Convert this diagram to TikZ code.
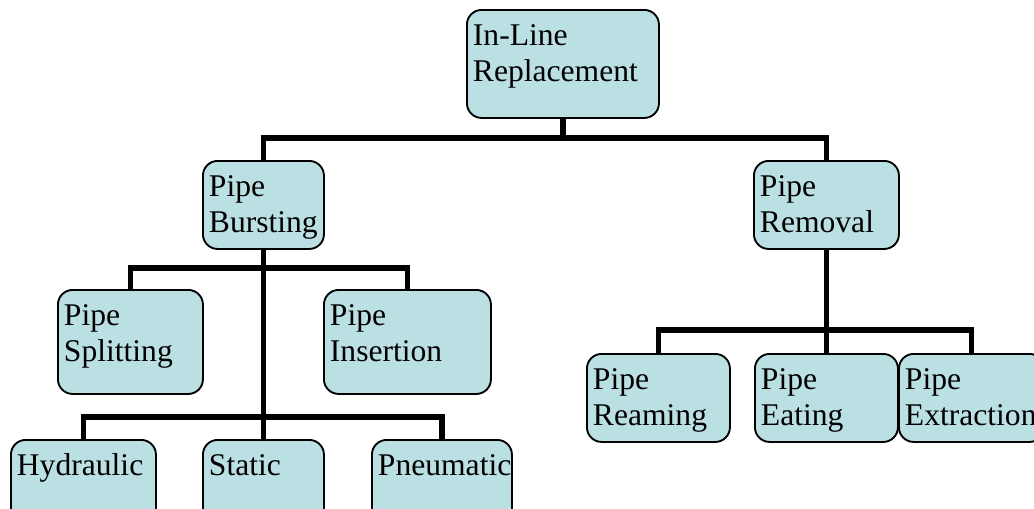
\documentclass[tikz,border=0pt]{standalone}
\usepackage{fontspec}
\setmainfont{Liberation Serif}
\usepackage{tikz}
\definecolor{boxfill}{RGB}{187,224,227}
\hyphenpenalty=10000
\exhyphenpenalty=10000
\tikzset{%
  methodbox/.style = {shape=rectangle, rounded corners=11pt,%
                      draw, line width=1.4pt, fill=boxfill,%
                      align=left, anchor=north west,%
                      inner xsep=4.5pt, inner ysep=0pt,%
                      text height=27pt, text depth=39pt,%
                      font=\fontsize{23.7pt}{27pt}\selectfont},%
  rootbox/.style   = {methodbox, text depth=54pt},%
  tallbox/.style   = {methodbox, text depth=51pt},%
  bus/.style       = {line width=4.2pt}%
}

\begin{document}
\begin{tikzpicture}[x=0.75pt,y=-0.75pt]
\useasboundingbox (0,0) rectangle (1034,508);
\clip (0,0) rectangle (1034,508);
% top level
\node[rootbox, text width=135pt] (inline) at (466,9) {In-Line\\Replacement};
\node[methodbox, text width=81.75pt] (bursting) at (202,160) {Pipe\\Bursting};
\node[methodbox, text width=99.75pt] (removal) at (753,160) {Pipe\\Removal};
% bursting branch
\node[tallbox, text width=99.75pt] (splitting) at (57,289) {Pipe\\Splitting};
\node[tallbox, text width=116.25pt] (insertion) at (323,289) {Pipe\\Insertion};
\node[methodbox, text width=99.75pt] (hydraulic) at (10,439) {Hydraulic};
\node[methodbox, text width=81.75pt] (static) at (202,439) {Static};
\node[methodbox, text width=96pt] (pneumatic) at (371,439) {Pneumatic};
% removal branch
\node[methodbox, text width=98.25pt] (reaming) at (586,353) {Pipe\\Reaming};
\node[methodbox, text width=98.25pt] (eating) at (754,353) {Pipe\\Eating};
\node[methodbox, text width=100pt] (extraction) at (898,353) {Pipe\\Extraction};
% bus lines
\coordinate (rootbus) at (inline.south |- 0,138);
\coordinate (burstbus) at (bursting.south |- 0,268);
\coordinate (toolbus) at (bursting.south |- 0,417);
\coordinate (removebus) at (removal.south |- 0,330);
\draw[bus] (inline) -- (rootbus);
\draw[bus] (bursting) |- (rootbus) -| (removal);
\draw[bus] (bursting) -- (toolbus);
\draw[bus] (splitting) |- (burstbus) -| (insertion);
\draw[bus] (hydraulic) |- (toolbus) -| (pneumatic);
\draw[bus] (toolbus) -- (static);
\draw[bus] (removal) -- (removebus) -- (eating);
\draw[bus] (reaming) |- (removebus) -| (extraction);
\end{tikzpicture}
\end{document}
